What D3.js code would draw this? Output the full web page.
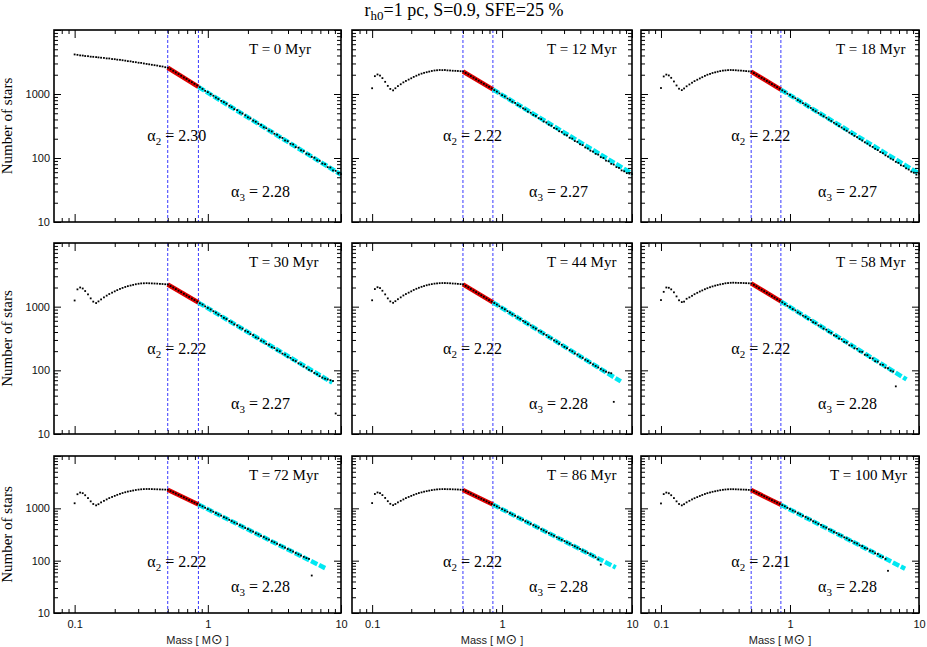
<!DOCTYPE html>
<html>
<head>
<meta charset="utf-8">
<script src="https://cdn.jsdelivr.net/npm/d3@7/dist/d3.min.js"></script>
<style>
  body { margin: 0; background: #fff; }
</style>
</head>
<body>
<svg id="chart" width="927" height="647"></svg>
<script>
// ---- data ----
var massBins = [
  0.100,0.105,0.110,0.115,0.120,0.126,0.132,0.138,0.145,0.151,
  0.158,0.166,0.174,0.182,0.191,0.200,0.209,0.219,0.229,0.240,
  0.251,0.263,0.275,0.288,0.302,0.316,0.331,0.347,0.363,0.380,
  0.398,0.417,0.437,0.457,0.479,0.501,0.525,0.550,0.575,0.603,
  0.631,0.661,0.692,0.724,0.759,0.794,0.832,0.871,0.912,0.955,
  1.00,1.05,1.10,1.15,1.20,1.26,1.32,1.38,1.45,1.51,
  1.58,1.66,1.74,1.82,1.91,2.00,2.09,2.19,2.29,2.40,
  2.51,2.63,2.75,2.88,3.02,3.16,3.31,3.47,3.63,3.80,
  3.98,4.17,4.37,4.57,4.79,5.01,5.25,5.50,5.75,6.03,
  6.31,6.61,6.92,7.24,7.59,7.94,8.32,8.71,9.12,9.55,
  10.0
];

var countsT0 = [
  4150,4090,4010,3990,3920,3900,3830,3810,3770,3730,3690,3660,3600,3590,3520,3500,3440,3420,
  3370,3320,3260,3240,3170,3140,3080,3060,3000,2950,2910,2860,2820,2780,2720,2690,2620,2570,
  2440,2300,2170,2050,1930,1810,1720,1610,1530,1440,1360,1280,
  1200,1120,1070,995,940,880,835,780,745,705,655,625,580,560,515,495,465,432,415,384,368,342,
  328,302,292,268,260,239,231,212,206,188,183,167,163,148,145,132,128,117,114,104,101,92,90,
  82,80,72,71,64,63,57,56
];
var countsT12 = [
  1230,1900,2020,1940,1770,1550,1340,1200,1140,1230,1330,1420,1520,1600,1680,1760,1850,1930,
  2010,2080,2140,2190,2240,2290,2330,2350,2370,2360,2370,2340,2330,2310,2300,2290,2270,2250,
  2130,2020,1910,1800,1700,1610,1520,1440,1360,1290,1220,1150,
  1090,1020,960,915,850,812,758,725,672,645,598,575,530,510,472,455,420,405,372,360,332,320,
  295,285,262,255,233,226,207,201,184,179,164,159,146,141,130,126,116,113,103,100,91,89,81,
  79,72,70,64,62,58,57,56
];
var countsT18 = [
  1240,1880,2010,1950,1790,1570,1360,1210,1150,1220,1320,1410,1500,1590,1670,1750,1830,1920,
  2000,2060,2130,2180,2230,2280,2320,2340,2360,2370,2360,2350,2330,2320,2300,2280,2260,2240,
  2120,2010,1900,1790,1700,1600,1520,1430,1360,1280,1210,1140,
  1085,1010,968,902,858,805,765,718,680,638,605,568,538,505,478,450,426,400,379,356,338,316,
  300,281,267,250,238,222,212,198,188,176,168,156,149,139,133,124,119,110,105,98,94,87,84,
  77,75,69,66,61,59,55,57
];
var countsT30 = [
  1250,1870,2000,1930,1760,1560,1350,1200,1140,1210,1300,1400,1490,1580,1660,1740,1820,1900,
  1970,2040,2100,2150,2200,2250,2290,2320,2330,2340,2330,2320,2310,2300,2280,2270,2250,2230,
  2110,2000,1890,1780,1690,1590,1500,1420,1340,1270,1200,1130,
  1080,1010,955,905,848,806,752,718,668,640,594,570,528,508,470,452,418,402,372,358,330,318,
  293,283,260,252,232,224,206,199,183,177,163,157,145,140,129,124,115,110,102,98,91,87,81,
  77,74,72,70,68,21
];
var countsT44 = [
  1260,1890,2020,1960,1780,1560,1350,1210,1150,1220,1310,1400,1500,1580,1660,1740,1830,1910,
  1980,2050,2110,2170,2220,2260,2300,2320,2340,2350,2350,2340,2330,2310,2300,2280,2260,2240,
  2120,2010,1900,1790,1690,1600,1510,1430,1350,1270,1200,1140,
  1080,1015,960,908,852,806,758,720,672,642,598,570,532,508,474,452,420,404,374,358,332,318,
  296,282,262,252,234,223,208,199,184,177,165,157,147,140,131,124,117,111,105,99,95,92,90,
  32
];
var countsT58 = [
  1270,1710,2000,1980,1870,1680,1450,1260,1180,1200,1330,1400,1480,1570,1650,1730,1800,1880,
  1950,2020,2080,2140,2190,2240,2280,2330,2350,2370,2380,2370,2360,2360,2350,2340,2330,2320,
  2200,2080,1960,1850,1750,1650,1560,1470,1390,1310,1240,1170,
  1100,1030,985,918,875,812,778,722,692,642,618,570,552,508,490,452,436,402,388,356,345,316,
  308,280,274,248,245,222,218,197,195,176,173,156,154,139,137,124,122,110,108,99,96,
  56
];
var countsT72 = [
  1250,1860,2000,1950,1780,1570,1360,1210,1140,1200,1300,1390,1480,1570,1650,1730,1810,1890,
  1960,2030,2090,2140,2190,2240,2280,2310,2330,2340,2340,2330,2320,2310,2300,2290,2280,2260,
  2140,2030,1920,1810,1710,1620,1530,1440,1360,1290,1220,1150,
  1090,1025,968,912,860,812,762,725,678,645,602,572,536,508,476,452,422,402,376,358,334,318,
  297,283,264,252,235,224,210,199,187,177,167,158,149,140,132,125,118,112,108,
  52
];
var countsT86 = [
  1260,1880,2010,1950,1790,1580,1370,1220,1150,1210,1300,1390,1480,1570,1650,1730,1810,1890,
  1960,2020,2080,2130,2180,2230,2270,2300,2320,2330,2330,2320,2320,2310,2300,2290,2270,2250,
  2130,2020,1910,1800,1700,1610,1520,1440,1360,1280,1210,1150,
  1088,1022,966,908,860,808,764,720,680,640,604,568,538,505,478,449,426,399,378,355,336,316,
  299,281,266,250,237,223,211,198,188,177,167,157,149,140,132,124,116,106,
  84
];
var countsT100 = [
  1240,1870,2000,1940,1780,1570,1360,1210,1140,1200,1300,1390,1480,1560,1640,1720,1800,1880,
  1950,2010,2070,2120,2170,2220,2260,2290,2310,2320,2320,2310,2300,2290,2280,2270,2250,2240,
  2120,2010,1900,1800,1700,1610,1520,1430,1360,1280,1210,1150,
  1092,1020,970,905,864,806,768,718,684,638,608,566,540,503,481,447,428,398,380,353,338,314,
  301,279,268,248,239,221,213,196,190,175,169,155,151,138,134,122,117,108,
  64
];

var panelTimes = [0, 12, 18, 30, 44, 58, 72, 86, 100];
var countsList = [countsT0, countsT12, countsT18, countsT30, countsT44, countsT58, countsT72, countsT86, countsT100];
var alpha2Labels = ["2.30", "2.22", "2.22", "2.22", "2.22", "2.22", "2.22", "2.22", "2.21"];
var alpha3Labels = ["2.28", "2.27", "2.27", "2.27", "2.28", "2.28", "2.28", "2.28", "2.28"];

// break masses (dashed lines) and fitted segments: [N at 0.5, N at 0.85], cyan end [mass, N]
var breakMasses = [0.5, 0.85];
var redFits = [[2570,1290],[2250,1180],[2240,1170],[2230,1160],[2240,1170],[2320,1210],[2260,1180],[2250,1180],[2240,1170]];
var cyanEnds = [[10,55],[10,57],[10,57],[8.6,64],[8.2,67],[8.0,72],[7.6,72],[7.5,74],[7.8,70]];

var xMajor = [0.1, 1, 10];
var xMinor = [0.08, 0.09, 0.2, 0.3, 0.4, 0.5, 0.6, 0.7, 0.8, 0.9, 2, 3, 4, 5, 6, 7, 8, 9];
var yMajor = [10, 100, 1000, 10000];
var yMinor = [20, 30, 40, 50, 60, 70, 80, 90, 200, 300, 400, 500, 600, 700, 800, 900,
              2000, 3000, 4000, 5000, 6000, 7000, 8000, 9000];

// ---- layout ----
var cols = [[54, 341], [352, 632], [641, 919]];
var rows = [[30, 222], [243, 434], [456, 613]];
var serif = "Liberation Serif, Times New Roman, serif";
var sans = "Liberation Sans, Arial, sans-serif";

var svg = d3.select("#chart");

// title
var title = svg.append("text")
    .attr("x", 464)
    .attr("y", 16)
    .attr("text-anchor", "middle")
    .attr("font-family", serif)
    .attr("font-size", 18);
title.append("tspan").text("r");
title.append("tspan").attr("dy", 4).attr("font-size", 13).text("h0");
title.append("tspan").attr("dy", -4).text("=1 pc, S=0.9, SFE=25 %");

panelTimes.forEach(function(t, i) {
  var col = i % 3, row = Math.floor(i / 3);
  var c = cols[col], r = rows[row];

  var x = d3.scaleLog().domain([0.07, 10]).range(c);
  var y = d3.scaleLog().domain([10, 10000]).range([r[1], r[0]]);

  var g = svg.append("g").attr("class", "panel");

  // vertical dashed lines at the break masses
  g.selectAll("line.brk")
      .data(breakMasses)
    .enter().append("line")
      .attr("class", "brk")
      .attr("x1", function(d) { return x(d); })
      .attr("x2", function(d) { return x(d); })
      .attr("y1", r[0])
      .attr("y2", r[1])
      .attr("stroke", "#3838ff")
      .attr("stroke-width", 1)
      .attr("stroke-dasharray", "3,2");

  var line = d3.line()
      .x(function(d) { return x(d[0]); })
      .y(function(d) { return y(d[1]); });

  // alpha_2 fit (red) and alpha_3 fit (cyan)
  g.append("path")
      .attr("d", line([[breakMasses[0], redFits[i][0]], [breakMasses[1], redFits[i][1]]]))
      .attr("fill", "none")
      .attr("stroke", "#e00000")
      .attr("stroke-width", 4.5);

  g.append("path")
      .attr("d", line([[breakMasses[1], redFits[i][1]], cyanEnds[i]]))
      .attr("fill", "none")
      .attr("stroke", "#00e8f2")
      .attr("stroke-width", 4.5)
      .attr("stroke-dasharray", "7,2");

  // mass function points
  var pts = countsList[i].map(function(n, j) { return [massBins[j], n]; });
  g.selectAll("rect.pt")
      .data(pts)
    .enter().append("rect")
      .attr("class", "pt")
      .attr("x", function(d) { return x(d[0]) - 0.9; })
      .attr("y", function(d) { return y(d[1]) - 0.9; })
      .attr("width", 1.8)
      .attr("height", 1.8)
      .attr("fill", "#000");

  // axes, ticks pointing inward on all four sides
  function styleAxis(sel) {
    sel.select(".domain").remove();
    sel.attr("font-family", sans).attr("font-size", 11).attr("color", "#000");
    sel.selectAll(".tick line").attr("stroke-width", 1);
    sel.selectAll(".tick text").attr("fill", "#111");
  }
  var showX = row === 2, showY = col === 0;

  g.append("g").attr("transform", "translate(0," + r[1] + ")")
      .call(d3.axisBottom(x).tickValues(xMajor).tickSize(-8).tickPadding(7)
        .tickFormat(function(d) { return showX ? String(d) : ""; }))
      .call(styleAxis);
  g.append("g").attr("transform", "translate(0," + r[1] + ")")
      .call(d3.axisBottom(x).tickValues(xMinor).tickSize(-4).tickFormat(""))
      .call(styleAxis);
  g.append("g").attr("transform", "translate(0," + r[0] + ")")
      .call(d3.axisTop(x).tickValues(xMajor).tickSize(-8).tickFormat(""))
      .call(styleAxis);
  g.append("g").attr("transform", "translate(0," + r[0] + ")")
      .call(d3.axisTop(x).tickValues(xMinor).tickSize(-4).tickFormat(""))
      .call(styleAxis);

  g.append("g").attr("transform", "translate(" + c[0] + ",0)")
      .call(d3.axisLeft(y).tickValues(yMajor).tickSize(-7).tickPadding(4)
        .tickFormat(function(d) { return showY && d < 10000 ? String(d) : ""; }))
      .call(styleAxis);
  g.append("g").attr("transform", "translate(" + c[0] + ",0)")
      .call(d3.axisLeft(y).tickValues(yMinor).tickSize(-4).tickFormat(""))
      .call(styleAxis);
  g.append("g").attr("transform", "translate(" + c[1] + ",0)")
      .call(d3.axisRight(y).tickValues(yMajor).tickSize(-7).tickFormat(""))
      .call(styleAxis);
  g.append("g").attr("transform", "translate(" + c[1] + ",0)")
      .call(d3.axisRight(y).tickValues(yMinor).tickSize(-4).tickFormat(""))
      .call(styleAxis);

  // frame
  g.append("rect")
      .attr("x", c[0]).attr("y", r[0])
      .attr("width", c[1] - c[0]).attr("height", r[1] - r[0])
      .attr("fill", "none")
      .attr("stroke", "#000")
      .attr("stroke-width", 1.6);

  // time label
  var tl = g.append("text")
      .attr("x", c[0] + 195)
      .attr("y", r[0] + 24)
      .attr("font-family", serif)
      .attr("font-size", 15)
      .text("T = " + t + " Myr");
  var w = tl.node().getComputedTextLength();
  if (c[0] + 195 + w > c[1] - 12) tl.attr("x", c[1] - 12 - w);

  // slope labels
  var a2 = g.append("text")
      .attr("x", c[0] + 0.325 * (c[1] - c[0]))
      .attr("y", r[0] + 111)
      .attr("font-family", serif)
      .attr("font-size", 16);
  a2.append("tspan").text("\u03b1");
  a2.append("tspan").attr("dy", 4).attr("font-size", 11).text("2");
  a2.append("tspan").attr("dy", -4).text(" = " + alpha2Labels[i]);

  var a3 = g.append("text")
      .attr("x", c[0] + 177)
      .attr("y", r[0] + 0.868 * (r[1] - r[0]))
      .attr("font-family", serif)
      .attr("font-size", 16);
  a3.append("tspan").text("\u03b1");
  a3.append("tspan").attr("dy", 4).attr("font-size", 11).text("3");
  a3.append("tspan").attr("dy", -4).text(" = " + alpha3Labels[i]);

  // axis titles
  if (col === 0) {
    svg.append("text")
        .attr("transform", "translate(12," + (r[0] + r[1]) / 2 + ") rotate(-90)")
        .attr("text-anchor", "middle")
        .attr("font-family", serif)
        .attr("font-size", 15)
        .text("Number of stars");
  }
  if (row === 2) {
    var ml = svg.append("text")
        .attr("x", (c[0] + c[1]) / 2)
        .attr("y", 644)
        .attr("text-anchor", "middle")
        .attr("font-family", sans)
        .attr("font-size", 11)
        .attr("fill", "#222");
    ml.append("tspan").text("Mass [ M");
    ml.append("tspan").attr("font-size", 14).attr("font-family", "DejaVu Sans").text("\u2299");
    ml.append("tspan").text(" ]");
  }
});
</script>
</body>
</html>
